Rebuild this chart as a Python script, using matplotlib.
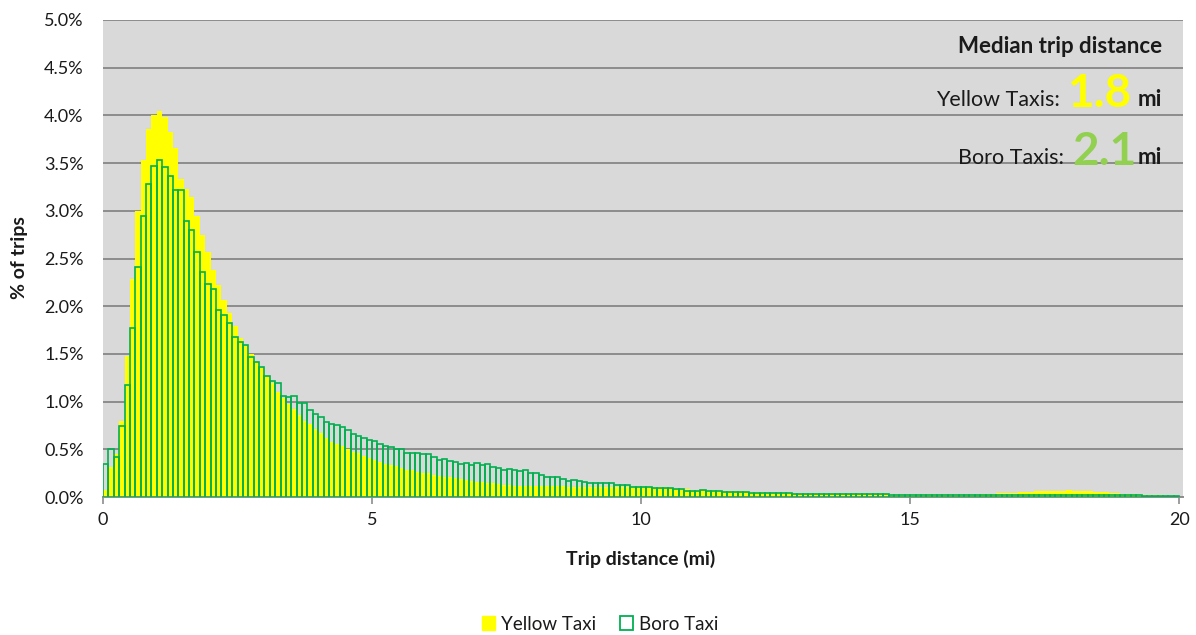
import numpy as np
import matplotlib
matplotlib.use('Agg')
import matplotlib.pyplot as plt
from matplotlib.patches import Patch

plt.rcParams['font.family'] = ['Lato', 'DejaVu Sans']

# share of trips (%) per 0.1 mi bin, 0 - 20 mi
yellow_pct = [
    0.07, 0.31, 0.45, 0.80, 1.48, 2.28, 3.00, 3.53, 3.86, 4.00,
    4.05, 3.98, 3.83, 3.66, 3.33, 3.23, 3.14, 2.95, 2.75, 2.57,
    2.38, 2.22, 2.07, 1.93, 1.79, 1.67, 1.58, 1.50, 1.42, 1.35,
    1.27, 1.20, 1.10, 1.04, 0.97, 0.92, 0.86, 0.80, 0.76, 0.71,
    0.67, 0.62, 0.58, 0.56, 0.53, 0.50, 0.475, 0.46, 0.43, 0.41,
    0.39, 0.37, 0.35, 0.335, 0.32, 0.30, 0.28, 0.28, 0.265, 0.255,
    0.25, 0.23, 0.22, 0.21, 0.205, 0.195, 0.185, 0.18, 0.17, 0.16,
    0.16, 0.15, 0.145, 0.14, 0.13, 0.125, 0.12, 0.12, 0.12, 0.115,
    0.115, 0.115, 0.115, 0.113, 0.113, 0.112, 0.11, 0.11, 0.108, 0.108,
    0.107, 0.107, 0.106, 0.106, 0.105, 0.105, 0.105, 0.10, 0.10, 0.10,
    0.10, 0.10, 0.10, 0.10, 0.10, 0.098, 0.09, 0.085, 0.08, 0.075,
    0.073, 0.073, 0.072, 0.07, 0.068, 0.066, 0.065, 0.063, 0.06, 0.058,
    0.055, 0.052, 0.05, 0.047, 0.045, 0.043, 0.04, 0.038, 0.036, 0.034,
    0.032, 0.032, 0.031, 0.031, 0.03, 0.03, 0.029, 0.029, 0.028, 0.028,
    0.027, 0.027, 0.026, 0.026, 0.025, 0.025, 0.025, 0.024, 0.024, 0.024,
    0.024, 0.022, 0.021, 0.021, 0.02, 0.02, 0.019, 0.019, 0.018, 0.018,
    0.02, 0.022, 0.025, 0.028, 0.031, 0.034, 0.037, 0.04, 0.043, 0.046,
    0.049, 0.052, 0.055, 0.058, 0.06, 0.062, 0.064, 0.066, 0.068, 0.069,
    0.068, 0.066, 0.063, 0.06, 0.057, 0.053, 0.048, 0.044, 0.04, 0.036,
    0.032, 0.029, 0.026, 0.023, 0.021, 0.019, 0.017, 0.015, 0.014, 0.013,
]
boro_pct = [
    0.35, 0.50, 0.42, 0.74, 1.17, 1.77, 2.41, 2.95, 3.28, 3.47,
    3.53, 3.46, 3.36, 3.22, 3.22, 2.89, 2.80, 2.57, 2.36, 2.23,
    2.18, 1.96, 1.91, 1.82, 1.68, 1.62, 1.59, 1.47, 1.42, 1.36,
    1.27, 1.22, 1.20, 1.06, 1.05, 1.06, 0.99, 0.99, 0.91, 0.87,
    0.84, 0.79, 0.77, 0.75, 0.73, 0.70, 0.66, 0.64, 0.615, 0.60,
    0.59, 0.555, 0.53, 0.52, 0.50, 0.50, 0.465, 0.465, 0.465, 0.45,
    0.45, 0.415, 0.39, 0.40, 0.38, 0.37, 0.35, 0.36, 0.335, 0.36,
    0.335, 0.35, 0.31, 0.30, 0.28, 0.29, 0.28, 0.275, 0.28, 0.255,
    0.25, 0.23, 0.21, 0.21, 0.21, 0.185, 0.17, 0.18, 0.17, 0.16,
    0.15, 0.15, 0.145, 0.145, 0.145, 0.13, 0.13, 0.125, 0.11, 0.11,
    0.11, 0.11, 0.09, 0.09, 0.09, 0.09, 0.08, 0.08, 0.066, 0.066,
    0.066, 0.073, 0.06, 0.058, 0.058, 0.055, 0.055, 0.053, 0.05, 0.048,
    0.045, 0.045, 0.043, 0.042, 0.042, 0.04, 0.04, 0.038, 0.036, 0.035,
    0.034, 0.033, 0.033, 0.032, 0.031, 0.031, 0.03, 0.03, 0.029, 0.03,
    0.029, 0.028, 0.028, 0.027, 0.028, 0.027, 0.026, 0.026, 0.025, 0.025,
    0.024, 0.024, 0.022, 0.022, 0.021, 0.022, 0.021, 0.021, 0.02, 0.021,
    0.02, 0.02, 0.02, 0.019, 0.02, 0.02, 0.019, 0.019, 0.02, 0.019,
    0.019, 0.02, 0.021, 0.02, 0.021, 0.022, 0.021, 0.022, 0.022, 0.021,
    0.022, 0.021, 0.021, 0.02, 0.02, 0.019, 0.019, 0.018, 0.018, 0.017,
    0.017, 0.016, 0.016, 0.015, 0.015, 0.014, 0.014, 0.013, 0.013, 0.012,
]
bin_width = 0.1
bin_left = np.arange(len(yellow_pct)) * bin_width

median_yellow = '1.8'
median_boro = '2.1'

YELLOW = '#FFFF00'
GREEN = '#00B050'
LIGHTGREEN = '#92D050'
TXT = '#1a1a1a'
W, H = 1196, 635

fig = plt.figure(figsize=(11.96, 6.35), dpi=100)
ax = fig.add_axes([103 / W, 1 - 497 / H, 1080 / W, 477 / H])
ax.set_facecolor('#D9D9D9')

ax.bar(bin_left, yellow_pct, width=bin_width, align='edge', color=YELLOW,
       linewidth=0, zorder=2)
ax.bar(bin_left, boro_pct, width=bin_width, align='edge', facecolor='none',
       edgecolor=GREEN, linewidth=1.2, zorder=3)

ax.set_xlim(0, 20.07)
ax.set_ylim(0, 5.0)
ax.set_yticks(np.arange(0, 5.01, 0.5))
ax.set_yticklabels([f'{v:.1f}%' for v in np.arange(0, 5.01, 0.5)])
ax.set_xticks([0, 5, 10, 15, 20])
ax.yaxis.grid(True, color='#8C8C8C', linewidth=1.4, zorder=1)
ax.set_axisbelow(True)
for s in ['top', 'right', 'left']:
    ax.spines[s].set_visible(False)
ax.spines['bottom'].set_color('#8C8C8C')
ax.spines['bottom'].set_linewidth(1.4)
ax.spines['bottom'].set_zorder(1.5)
ax.tick_params(axis='y', length=0, labelsize=13, colors=TXT, pad=14)
ax.tick_params(axis='x', length=5, width=1.2, color='#8C8C8C', labelsize=13,
               labelcolor=TXT, pad=6)

fig.text(641 / W, 1 - 565 / H, 'Trip distance (mi)', ha='center', va='baseline',
         fontsize=14, fontweight='bold', color=TXT)
fig.text(20 / W, 1 - 258 / H, '% of trips', ha='center', va='center', rotation=90,
         fontsize=14, fontweight='bold', color=TXT)

# median annotations, right aligned
fig.text(1162 / W, 1 - 53 / H, 'Median trip distance', ha='right', va='baseline',
         fontsize=16, fontweight='bold', color=TXT)

fig.canvas.draw()
renderer = fig.canvas.get_renderer()


def median_line(y_px, label, value, color, gap):
    mi = fig.text(1162 / W, 1 - y_px / H, 'mi', ha='right', va='baseline',
                  fontsize=16, fontweight='bold', color=TXT)
    x0 = mi.get_window_extent(renderer).x0
    num = fig.text((x0 - gap) / W, 1 - (y_px + 1) / H, value, ha='right',
                   va='baseline', fontsize=33, fontweight='bold', color=color)
    x1 = num.get_window_extent(renderer).x0
    fig.text((x1 - 8) / W, 1 - y_px / H, label, ha='right', va='baseline',
             fontsize=15.5, color=TXT)


median_line(106, 'Yellow Taxis:', median_yellow, YELLOW, 6)
median_line(164, 'Boro Taxis:', median_boro, LIGHTGREEN, 1)

handles = [Patch(facecolor=YELLOW, edgecolor=YELLOW, label='Yellow Taxi'),
           Patch(facecolor='white', edgecolor=GREEN, linewidth=1.3, label='Boro Taxi')]
fig.legend(handles=handles, loc='center', bbox_to_anchor=(600 / W, 1 - 624 / H),
           ncol=2, frameon=False, fontsize=13.5, handlelength=0.7, handleheight=0.7,
           handletextpad=0.3, columnspacing=1.3, labelcolor=TXT)

fig.savefig('out.png', dpi=100)
